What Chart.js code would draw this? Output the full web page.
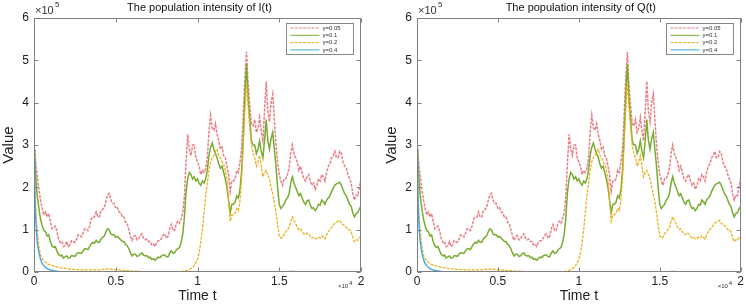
<!DOCTYPE html>
<html>
<head>
<meta charset="utf-8">
<script src="https://cdn.jsdelivr.net/npm/chart.js@4.4.0/dist/chart.umd.min.js"></script>
<style>
  body { margin: 0; background: #fff; }
  .wrap { position: absolute; top: 0; width: 373px; height: 306px; }
</style>
</head>
<body>
<div class="wrap" style="left:0"><canvas id="chartI" width="373" height="306"></canvas></div>
<div class="wrap" style="left:373px"><canvas id="chartQ" width="373" height="306"></canvas></div>
<script>
// time in units of 10^4, values in units of 10^5
const time = [0, 0.005, 0.01, 0.015, 0.02, 0.03, 0.04, 0.05, 0.06, 0.07, 0.08, 0.09,
  0.10, 0.11, 0.12, 0.13, 0.14, 0.15, 0.16, 0.17, 0.18, 0.19,
  0.20, 0.21, 0.22, 0.23, 0.24, 0.25, 0.26, 0.27, 0.28, 0.29,
  0.30, 0.31, 0.32, 0.33, 0.34, 0.35, 0.36, 0.37, 0.38, 0.39,
  0.40, 0.41, 0.42, 0.43, 0.44, 0.45, 0.46, 0.47, 0.48, 0.49,
  0.50, 0.51, 0.52, 0.53, 0.54, 0.55, 0.56, 0.57, 0.58, 0.59,
  0.60, 0.61, 0.62, 0.63, 0.64, 0.65, 0.66, 0.67, 0.68, 0.69,
  0.70, 0.71, 0.72, 0.73, 0.74, 0.75, 0.76, 0.77, 0.78, 0.79,
  0.80, 0.81, 0.82, 0.83, 0.84, 0.85, 0.86, 0.87, 0.88, 0.89,
  0.90, 0.91, 0.92, 0.93, 0.94, 0.95, 0.96, 0.97, 0.98, 0.99,
  1.00, 1.01, 1.02, 1.03, 1.04, 1.05, 1.06, 1.07, 1.08, 1.09,
  1.10, 1.11, 1.12, 1.13, 1.14, 1.15, 1.16, 1.17, 1.18, 1.19,
  1.20, 1.21, 1.22, 1.23, 1.24, 1.25, 1.26, 1.27, 1.28, 1.29,
  1.30, 1.31, 1.32, 1.33, 1.34, 1.35, 1.36, 1.37, 1.38, 1.39,
  1.40, 1.41, 1.42, 1.43, 1.44, 1.45, 1.46, 1.47, 1.48, 1.49,
  1.50, 1.51, 1.52, 1.53, 1.54, 1.55, 1.56, 1.57, 1.58, 1.59,
  1.60, 1.61, 1.62, 1.63, 1.64, 1.65, 1.66, 1.67, 1.68, 1.69,
  1.70, 1.71, 1.72, 1.73, 1.74, 1.75, 1.76, 1.77, 1.78, 1.79,
  1.80, 1.81, 1.82, 1.83, 1.84, 1.85, 1.86, 1.87, 1.88, 1.89,
  1.90, 1.91, 1.92, 1.93, 1.94, 1.95, 1.96, 1.97, 1.98, 1.99,
  2.00];

const gamma005 = [3.0, 2.8, 2.6, 2.4, 2.25, 1.95, 1.7, 1.5, 1.35, 1.42, 1.3, 1.38,
  1.2, 1.02, 1.05, 1.08, 0.97, 0.78, 0.7, 0.72, 0.6, 0.62,
  0.72, 0.6, 0.64, 0.74, 0.72, 0.7, 0.78, 0.88, 0.86, 0.83,
  0.92, 1.02, 1.02, 0.98, 1.08, 1.25, 1.3, 1.3, 1.42, 1.3,
  1.3, 1.45, 1.48, 1.52, 1.68, 1.82, 1.86, 1.7, 1.62, 1.62,
  1.5, 1.52, 1.42, 1.4, 1.3, 1.3, 1.18, 1.14, 1.0, 0.85,
  0.75, 0.84, 0.86, 0.76, 0.78, 0.86, 0.9, 0.8, 0.76, 0.78,
  0.72, 0.72, 0.64, 0.66, 0.6, 0.7, 0.74, 0.74, 0.8, 0.88,
  0.9, 0.8, 0.84, 1.02, 1.12, 0.98, 0.98, 1.14, 1.2, 1.15,
  1.26, 1.4, 1.8, 2.6, 3.25, 2.9, 2.75, 3.0, 3.0, 2.7,
  2.6, 2.5, 2.3, 2.4, 2.35, 2.45, 2.7, 3.3, 3.7, 3.4,
  3.35, 3.5, 3.25, 3.1, 2.9, 2.95, 2.75, 2.7, 2.5, 2.3,
  1.9, 2.15, 2.15, 2.2, 2.4, 2.35, 2.6, 2.9, 3.7, 4.6,
  5.2, 4.4, 3.9, 3.5, 3.45, 3.6, 3.3, 3.4, 3.65, 3.3,
  3.1, 3.8, 4.5, 3.8, 3.55, 4.0, 4.2, 3.6, 3.0, 2.6,
  2.3, 2.15, 2.05, 2.2, 2.2, 2.3, 2.45, 2.8, 3.0, 2.8,
  2.7, 2.6, 2.4, 2.5, 2.35, 2.2, 2.15, 2.25, 2.3, 2.15,
  2.05, 2.1, 1.95, 2.05, 2.2, 2.15, 2.3, 2.25, 2.15, 2.35,
  2.5, 2.55, 2.7, 2.75, 2.85, 2.7, 2.7, 2.85, 2.8, 2.6,
  2.5, 2.45, 2.3, 2.2, 2.1, 1.85, 1.7, 1.82, 1.8, 2.0,
  2.2];

const gamma01 = [2.9, 2.6, 2.3, 2.0, 1.8, 1.5, 1.25, 1.1, 0.98, 0.95, 0.85, 0.88,
  0.72, 0.62, 0.58, 0.6, 0.5, 0.42, 0.38, 0.4, 0.33, 0.36,
  0.38, 0.33, 0.34, 0.39, 0.38, 0.37, 0.42, 0.46, 0.45, 0.44,
  0.5, 0.55, 0.55, 0.53, 0.6, 0.67, 0.7, 0.68, 0.75, 0.7,
  0.7, 0.78, 0.82, 0.85, 0.95, 1.02, 1.0, 0.9, 0.88, 0.88,
  0.82, 0.84, 0.8, 0.76, 0.72, 0.72, 0.65, 0.62, 0.55, 0.45,
  0.38, 0.42, 0.42, 0.37, 0.38, 0.43, 0.45, 0.4, 0.38, 0.39,
  0.34, 0.35, 0.3, 0.31, 0.28, 0.32, 0.35, 0.34, 0.38, 0.4,
  0.4, 0.36, 0.36, 0.45, 0.5, 0.44, 0.45, 0.52, 0.55, 0.58,
  0.7, 0.9, 1.3, 1.9, 2.2, 2.35, 2.3, 2.2, 2.25, 2.15,
  2.2, 2.1, 2.05, 2.15, 2.1, 2.2, 2.4, 2.75, 2.95, 3.05,
  2.9, 2.8, 2.7, 2.55, 2.45, 2.5, 2.35, 2.2, 2.0, 1.7,
  1.4, 1.6, 1.6, 1.65, 1.8, 1.75, 1.95, 2.4, 3.2, 4.2,
  4.9, 4.1, 3.6, 3.1, 3.0, 3.0, 2.8, 2.9, 3.1, 2.85,
  2.7, 3.1, 3.6, 3.1, 2.9, 3.15, 3.3, 2.9, 2.5, 2.0,
  1.6, 1.5, 1.55, 1.6, 1.7, 1.75, 1.85, 2.1, 2.25, 2.1,
  2.0, 1.9, 1.8, 1.85, 1.75, 1.65, 1.6, 1.68, 1.7, 1.58,
  1.5, 1.52, 1.45, 1.5, 1.6, 1.58, 1.7, 1.66, 1.6, 1.7,
  1.75, 1.8, 1.9, 1.98, 2.05, 2.08, 2.1, 2.12, 2.05, 1.95,
  1.85, 1.8, 1.7, 1.6, 1.55, 1.4, 1.3, 1.38, 1.4, 1.5,
  1.55];

const gamma02 = [2.6, 2.0, 1.55, 1.2, 0.95, 0.6, 0.4, 0.32, 0.27, 0.23, 0.2, 0.18,
  0.17, 0.155, 0.14, 0.13, 0.12, 0.11, 0.1, 0.095, 0.09, 0.085,
  0.08, 0.075, 0.07, 0.065, 0.06, 0.06, 0.06, 0.055, 0.05, 0.05,
  0.05, 0.05, 0.05, 0.05, 0.05, 0.05, 0.05, 0.05, 0.05, 0.05,
  0.05, 0.055, 0.06, 0.065, 0.07, 0.075, 0.07, 0.065, 0.06, 0.055,
  0.05, 0.05, 0.05, 0.045, 0.04, 0.035, 0.03, 0.03, 0.03, 0.025,
  0.02, 0.02, 0.02, 0.02, 0.02, 0.015, 0.01, 0.01, 0.01, 0.01,
  0.01, 0.01, 0.01, 0.01, 0.01, 0.01, 0.01, 0.01, 0.01, 0.01,
  0.01, 0.01, 0.01, 0.01, 0.01, 0.01, 0.01, 0.01, 0.01, 0.01,
  0.01, 0.015, 0.02, 0.03, 0.04, 0.06, 0.08, 0.11, 0.15, 0.22,
  0.3, 0.45, 0.7, 1.0, 1.4, 1.8, 2.1, 2.4, 2.6, 2.7,
  2.75, 2.85, 2.9, 2.75, 2.7, 2.6, 2.55, 2.4, 2.2, 1.7,
  1.2, 1.35, 1.35, 1.4, 1.5, 1.45, 1.7, 2.2, 3.0, 3.8,
  4.45, 3.9, 3.4, 3.0, 2.8, 2.7, 2.5, 2.6, 2.75, 2.5,
  2.25, 2.35, 2.4, 2.3, 2.2, 2.0, 1.85, 1.65, 1.4, 1.1,
  0.85, 0.8, 0.82, 0.9, 0.95, 1.0, 1.05, 1.2, 1.3, 1.22,
  1.15, 1.05, 1.0, 1.02, 0.95, 0.9, 0.88, 0.92, 0.9, 0.84,
  0.8, 0.82, 0.78, 0.8, 0.82, 0.8, 0.85, 0.82, 0.78, 0.88,
  0.95, 1.0, 1.05, 1.1, 1.15, 1.18, 1.2, 1.22, 1.15, 1.12,
  1.1, 1.05, 1.0, 1.0, 0.95, 0.82, 0.72, 0.76, 0.75, 0.8,
  0.85];

const gamma04 = [2.7, 1.9, 1.3, 0.95, 0.7, 0.45, 0.3, 0.2, 0.15, 0.11, 0.08, 0.06,
  0.045, 0.04, 0.03, 0.025, 0.02, 0.015, 0.01, 0.008, 0.005, 0.003,
  0, 0, 0, 0, 0, 0, 0, 0, 0, 0,
  0, 0, 0, 0, 0, 0, 0, 0, 0, 0,
  0, 0, 0, 0, 0, 0, 0, 0, 0, 0,
  0, 0, 0, 0, 0, 0, 0, 0, 0, 0,
  0, 0, 0, 0, 0, 0, 0, 0, 0, 0,
  0, 0, 0, 0, 0, 0, 0, 0, 0, 0,
  0, 0, 0, 0, 0, 0, 0, 0, 0, 0,
  0, 0, 0, 0, 0, 0, 0, 0, 0, 0,
  0, 0, 0, 0, 0, 0, 0, 0, 0, 0,
  0, 0, 0, 0, 0, 0, 0, 0, 0, 0,
  0, 0, 0, 0, 0, 0, 0, 0, 0, 0,
  0, 0, 0, 0, 0, 0, 0, 0, 0, 0,
  0, 0, 0, 0, 0, 0, 0, 0, 0, 0,
  0, 0, 0, 0, 0, 0.01, 0.012, 0.015, 0.015, 0.015,
  0.012, 0.01, 0.005, 0, 0, 0, 0, 0, 0, 0,
  0, 0, 0, 0, 0, 0, 0, 0, 0, 0,
  0, 0, 0, 0, 0, 0, 0, 0, 0, 0,
  0, 0, 0, 0, 0, 0, 0, 0, 0, 0,
  0];

const legendLabels = ['\u03b3=0.05', '\u03b3=0.1', '\u03b3=0.2', '\u03b3=0.4'];
const xTicks = [0, 0.5, 1, 1.5, 2];
const yTicks = [0, 1, 2, 3, 4, 5, 6];

const FONT = 'Helvetica, "Liberation Sans", Arial, sans-serif';

function series(values) {
  return time.map((t, i) => ({ x: t, y: values[i] }));
}

const boxPlugin = {
  id: 'box',
  afterDraw(chart, args, opts) {
    const ctx = chart.ctx, a = chart.chartArea;
    const xs = chart.scales.x, ys = chart.scales.y;
    const L = Math.round(a.left) + 0.5, R = Math.round(a.right) - 0.5;
    const T = Math.round(a.top) + 0.5, B = Math.round(a.bottom) - 0.5;
    ctx.save();
    ctx.strokeStyle = '#808080';
    ctx.lineWidth = 1;
    ctx.strokeRect(L, T, R - L, B - T);
    ctx.beginPath();
    xTicks.forEach(v => {
      const px = Math.round(xs.getPixelForValue(v)) + 0.5;
      ctx.moveTo(px, B); ctx.lineTo(px, B - 4);
      ctx.moveTo(px, T); ctx.lineTo(px, T + 4);
    });
    yTicks.forEach(v => {
      const py = Math.round(ys.getPixelForValue(v)) + 0.5;
      ctx.moveTo(L, py); ctx.lineTo(L + 4, py);
      ctx.moveTo(R, py); ctx.lineTo(R - 4, py);
    });
    ctx.stroke();

    // title
    ctx.fillStyle = '#111';
    ctx.font = '11px ' + FONT;
    ctx.textAlign = 'center';
    ctx.textBaseline = 'middle';
    ctx.fillText(opts.title, (a.left + a.right) / 2 + 2, 8);

    // exponent labels
    ctx.textAlign = 'left';
    ctx.font = '11px ' + FONT;
    ctx.fillStyle = '#333';
    ctx.fillText('\u00d710', a.left + 1, 11);
    ctx.font = '8px ' + FONT;
    ctx.fillText('5', a.left + 21, 5);
    ctx.font = '6px ' + FONT;
    ctx.fillText('\u00d710', a.right - 23, 286);
    ctx.fillText('4', a.right - 12, 283);

    // legend
    const lw = 67, lh = 31;
    const lx = Math.round(a.right - 8 - lw) + 0.5, ly = Math.round(a.top + 5) + 0.5;
    ctx.fillStyle = '#fff';
    ctx.fillRect(lx, ly, lw, lh);
    ctx.strokeStyle = '#888';
    ctx.strokeRect(lx, ly, lw, lh);
    chart.data.datasets.forEach((ds, i) => {
      const yy = ly + 4.5 + i * 7.3;
      ctx.beginPath();
      ctx.strokeStyle = ds.borderColor;
      ctx.lineWidth = 1;
      ctx.setLineDash(ds.borderDash || []);
      ctx.moveTo(lx + 4, yy);
      ctx.lineTo(lx + 33, yy);
      ctx.stroke();
      ctx.setLineDash([]);
      ctx.fillStyle = '#333';
      ctx.font = '6px ' + FONT;
      ctx.textAlign = 'left';
      ctx.fillText(legendLabels[i], lx + 36, yy);
    });
    ctx.restore();
  }
};

function makeChart(id, title, padLeft, padRight) {
  const ctx = document.getElementById(id).getContext('2d');
  return new Chart(ctx, {
    type: 'line',
    data: {
      datasets: [
        { label: legendLabels[0], data: series(gamma005), borderColor: '#eb7e85', borderWidth: 1.5, borderDash: [3, 1.2], order: 4 },
        { label: legendLabels[1], data: series(gamma01), borderColor: '#77ac30', borderWidth: 1.5, order: 3 },
        { label: legendLabels[2], data: series(gamma02), borderColor: '#edb120', borderWidth: 1.3, borderDash: [3, 1.2], order: 2 },
        { label: legendLabels[3], data: series(gamma04), borderColor: '#3fa9e0', borderWidth: 1.4, order: 1 }
      ]
    },
    options: {
      responsive: false,
      animation: false,
      events: [],
      elements: { point: { radius: 0 }, line: { tension: 0 } },
      layout: { padding: { left: padLeft, right: padRight, top: 18, bottom: 0 } },
      plugins: {
        legend: { display: false },
        tooltip: { enabled: false },
        box: { title: title }
      },
      scales: {
        x: {
          type: 'linear', min: 0, max: 2,
          afterFit: s => { s.height = 34; },
          ticks: { stepSize: 0.5, padding: 2, color: '#222', font: { family: FONT, size: 12 }, maxRotation: 0,
                   callback: v => String(v) },
          grid: { display: false, drawTicks: false },
          border: { display: false },
          title: { display: true, text: 'Time t', color: '#222', font: { family: FONT, size: 14 }, padding: { top: 0, bottom: 1 } }
        },
        y: {
          min: 0, max: 6,
          afterFit: s => { s.width = 34; },
          ticks: { stepSize: 1, padding: 5, color: '#222', font: { family: FONT, size: 12 } },
          grid: { display: false, drawTicks: false },
          border: { display: false },
          title: { display: true, text: 'Value', color: '#222', font: { family: FONT, size: 15 }, padding: { top: 0, bottom: 0 } }
        }
      }
    },
    plugins: [boxPlugin]
  });
}

makeChart('chartI', 'The population intensity of I(t)', 0, 12);
makeChart('chartQ', 'The population intensity of Q(t)', 10, 3);
</script>
</body>
</html>
